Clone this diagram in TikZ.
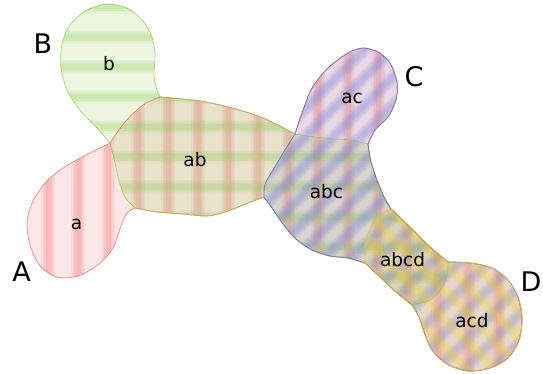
\documentclass[tikz,border=0pt]{standalone}
\usepackage{fontspec}
\setmainfont{DejaVu Sans}
\definecolor{cA}{RGB}{232,95,95}
\definecolor{cB}{RGB}{140,200,80}
\definecolor{cC}{RGB}{105,115,215}
\definecolor{cD}{RGB}{240,212,45}
\definecolor{bA}{RGB}{236,110,110}
\definecolor{bB}{RGB}{150,200,95}
\definecolor{bC}{RGB}{95,110,200}
\definecolor{bD}{RGB}{225,195,60}
% boundary segments (F = forward, R = reverse)
\def\SaoutR{plot[smooth] coordinates {(135,208) (127,213) (121,226) (113,248) (99,264) (78,276) (57,277) (40,266) (30,245) (27,222) (33,201) (47,181) (66,166) (88,154) (110,143)}}
\def\SaabR{plot[smooth] coordinates {(135,208) (125,197) (119,181) (115,163) (110,143)}}
\def\SboutF{plot[smooth] coordinates {(110,143) (97,128) (80,110) (67,90) (61,67) (62,44) (70,25) (87,10) (107,4) (127,8) (143,21) (152,37) (155,55) (154,76) (157,90) (160,97)}}
\def\SbabF{plot[smooth] coordinates {(110,143) (125,122) (143,105) (160,97)}}
\def\SabtopF{plot[smooth] coordinates {(160,97) (200,101) (232,108) (263,118) (295,134)}}
\def\SacoutF{plot[smooth] coordinates {(295,134) (302,113) (312,88) (328,68) (348,53) (363,48) (378,52) (390,63) (397,82) (396,100) (388,117) (375,130) (368,144)}}
\def\SacabcF{plot[smooth] coordinates {(295,134) (315,137) (335,139) (352,140) (368,144)}}
\def\SabcrightF{plot[smooth] coordinates {(368,144) (371,162) (377,180) (384,197) (391,209)}}
\def\SabcdtopF{plot[smooth] coordinates {(391,209) (409,226) (429,246) (448,262)}}
\def\SacdoutF{plot[smooth] coordinates {(448,262) (470,263) (492,268) (508,280) (518,297) (522,318) (519,340) (508,358) (490,368) (468,371) (447,364) (432,350) (424,332) (419,317) (412,305)}}
\def\SabcdbotR{plot[smooth] coordinates {(412,305) (396,292) (380,277) (365,263)}}
\def\SabcleftR{plot[smooth] coordinates {(365,263) (348,258) (330,256) (312,250) (296,239) (283,224) (272,208) (264,197)}}
\def\SabbotR{plot[smooth] coordinates {(264,197) (243,205) (225,212) (207,216) (183,214) (157,212) (135,208)}}
\def\SababcR{plot[smooth] coordinates {(264,197) (265,184) (273,170) (283,153) (295,134)}}
\def\SabcabcdR{plot[smooth] coordinates {(365,263) (365,246) (370,229) (380,215) (391,209)}}
\def\SabcdacdF{plot[smooth] coordinates {(448,262) (447,277) (440,291) (428,301) (412,305)}}
% set outlines
\edef\pathA{\SbabF -- \SabtopF -- \SacoutF -- \SabcrightF -- \SabcdtopF -- \SacdoutF -- \SabcdbotR -- \SabcleftR -- \SabbotR -- \SaoutR -- cycle}
\edef\pathB{\SboutF -- \SabtopF -- \SacabcF -- \SabcrightF -- \SabcdtopF -- \SabcdacdF -- \SabcdbotR -- \SabcleftR -- \SabbotR -- \SaabR -- cycle}
\edef\pathC{\SacoutF -- \SabcrightF -- \SabcdtopF -- \SacdoutF -- \SabcdbotR -- \SabcleftR -- \SababcR -- cycle}
\edef\pathD{\SabcdtopF -- \SacdoutF -- \SabcdbotR -- \SabcabcdR -- cycle}
\newcommand\softstripe[3]{%
  \draw[#1, line width=14, opacity=.08] #2 -- #3;
  \draw[#1, line width=11, opacity=.09] #2 -- #3;
  \draw[#1, line width=8, opacity=.10] #2 -- #3;
  \draw[#1, line width=5, opacity=.10] #2 -- #3;}
\tikzset{
  small label/.style={anchor=base, inner sep=0pt, font=\fontsize{18.5}{20}\selectfont},
  big label/.style={anchor=base, inner sep=0pt, font=\fontsize{27}{30}\selectfont},
  set border/.style={line width=0.8pt, draw opacity=.75}
}
\begin{document}
\begin{tikzpicture}[x=1pt, y=-1pt]
\useasboundingbox (0,0) rectangle (543,374);
% set A: red vertical stripes
\begin{scope}
  \clip \pathA;
  \fill[cA, opacity=.15] (0,0) rectangle (543,374);
  \foreach \x in {18,48,...,558} {\softstripe{cA}{(\x,-10)}{(\x,384)}}
\end{scope}
% set B: green horizontal stripes
\begin{scope}
  \clip \pathB;
  \fill[cB, opacity=.17] (0,0) rectangle (543,374);
  \foreach \y in {7,37,...,397} {\softstripe{cB}{(-10,\y)}{(553,\y)}}
\end{scope}
% set C: blue diagonal stripes
\begin{scope}
  \clip \pathC;
  \fill[cC, opacity=.12] (0,0) rectangle (543,374);
  \foreach \c in {22,50,...,946} {\softstripe{cC}{(\c,0)}{(\c-374,374)}}
\end{scope}
% set D: yellow diagonal stripes
\begin{scope}
  \clip \pathD;
  \fill[cD, opacity=.12] (0,0) rectangle (543,374);
  \foreach \c in {-378,-350,...,546} {\softstripe{cD}{(\c,0)}{(\c+374,374)}}
\end{scope}
% outlines
\draw[bA, set border] \pathA;
\draw[bB, set border] \pathB;
\draw[bC, set border] \pathC;
\draw[bD, set border] \pathD;
% labels
\node[small label] (lb) at (109,71) {b};
\node[small label] (lab) at (195,167) {ab};
\node[small label] (la) at (76.5,229) {a};
\node[small label] (lac) at (352,104) {ac};
\node[small label] (labc) at (326.5,199) {abc};
\node[small label] (labcd) at (402.5,266.5) {abcd};
\node[small label] (lacd) at (472,327) {acd};
\node[big label] (nA) at (21.5,281.5) {A};
\node[big label] (nB) at (43,54) {B};
\node[big label] (nC) at (414,86.5) {C};
\node[big label] (nD) at (531,291.5) {D};
\end{tikzpicture}
\end{document}
